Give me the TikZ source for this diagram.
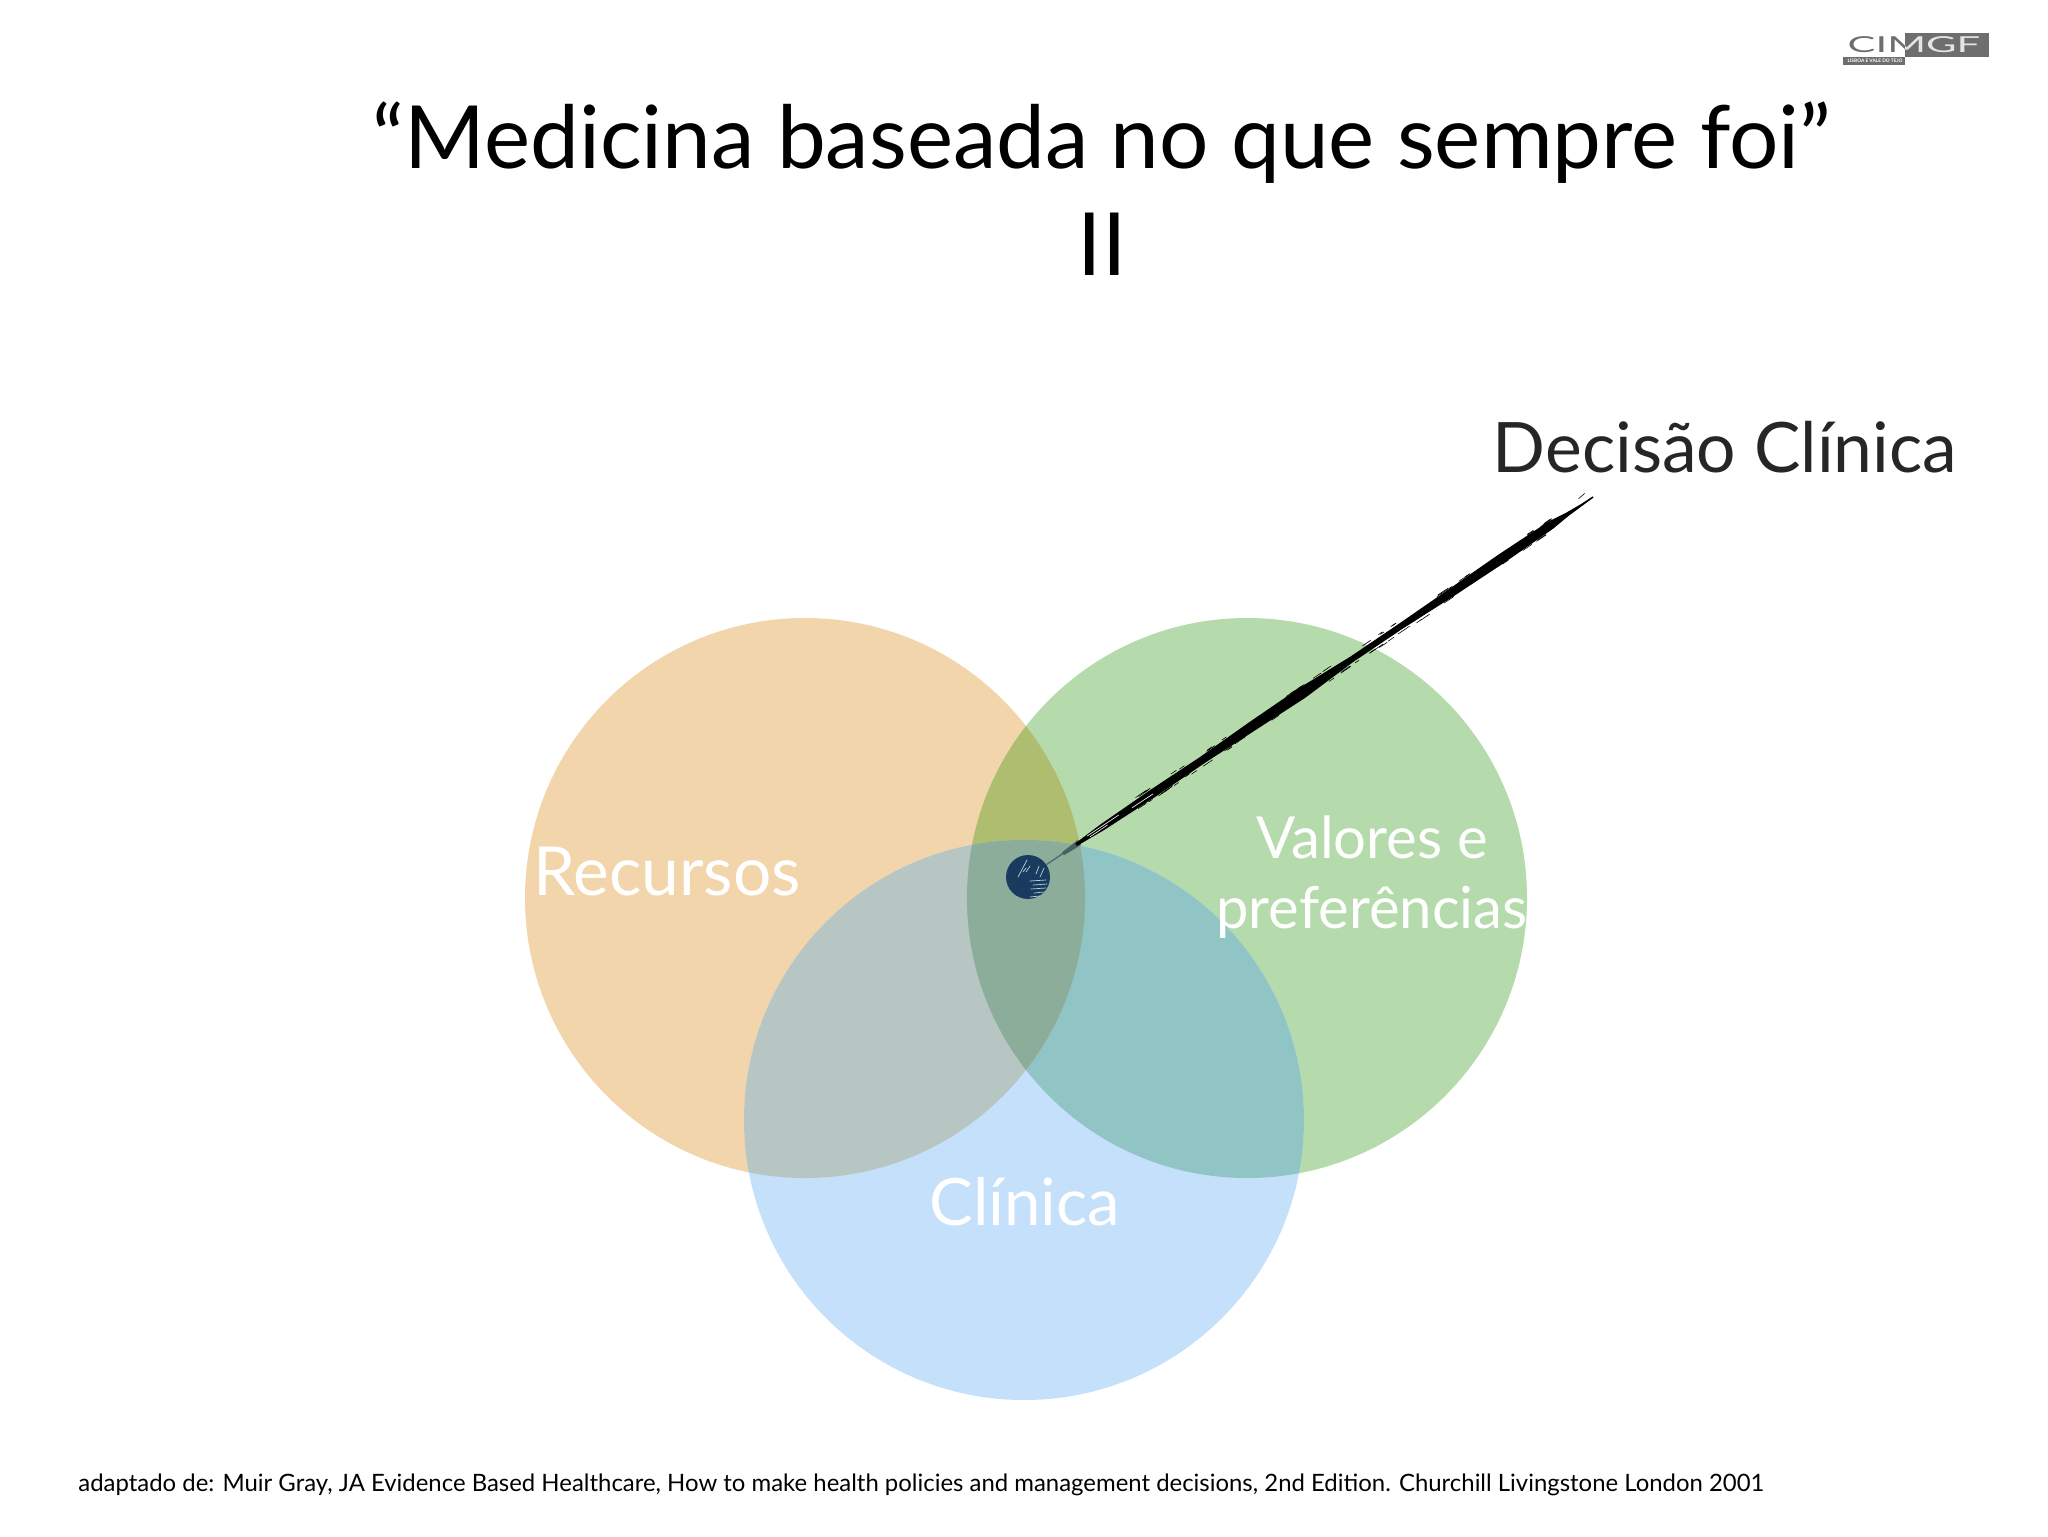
\documentclass[tikz,border=0pt]{standalone}
\usepackage{fontspec}
\setmainfont{Lato}
\definecolor{cO}{HTML}{F3D5AC}
\definecolor{cG}{HTML}{B5DBAC}
\definecolor{cB}{HTML}{C5E0FA}
\definecolor{cOG}{HTML}{AEBD6F}
\definecolor{cOB}{HTML}{B8C6C3}
\definecolor{cGB}{HTML}{91C4C5}
\definecolor{cOGB}{HTML}{8DAD9B}
\definecolor{cDot}{HTML}{1A3B60}
\definecolor{cLogo}{HTML}{6E6E6E}
\definecolor{cTxt}{HTML}{262626}
\tikzset{
  lbl/.style={text=white,inner sep=0pt},
  ttl/.style={text=black,font=\fontsize{43.6}{52}\selectfont,inner sep=0pt,anchor=base},
  bristle/.style={black,line width=0.3pt},
  scratch/.style={cGB!70!white,line width=0.35pt,line cap=round},
}
\begin{document}
\begin{tikzpicture}[x=0.5pt,y=-0.5pt]
\useasboundingbox (0,0) rectangle (2048,1536);
\fill[white] (0,0) rectangle (2048,1536);
% circles
\coordinate (R) at (805,898);
\coordinate (V) at (1247,898);
\coordinate (C) at (1024,1120);
\def\rr{140pt}
\fill[cO] (R) circle[radius=\rr];
\fill[cG] (V) circle[radius=\rr];
\fill[cB] (C) circle[radius=\rr];
\begin{scope}\clip (R) circle[radius=\rr]; \fill[cOG] (V) circle[radius=\rr];\end{scope}
\begin{scope}\clip (R) circle[radius=\rr]; \fill[cOB] (C) circle[radius=\rr];\end{scope}
\begin{scope}\clip (V) circle[radius=\rr]; \fill[cGB] (C) circle[radius=\rr];\end{scope}
\begin{scope}\clip (R) circle[radius=\rr]; \clip (V) circle[radius=\rr]; \fill[cOGB] (C) circle[radius=\rr];\end{scope}
% labels
\node[lbl,font=\fontsize{33.8}{40}\selectfont] (recursos) at (667,872) {Recursos};
\node[lbl,font=\fontsize{29}{35}\selectfont,align=center] (valores) at (1372,877) {Valores e\\preferências};
\node[lbl,font=\fontsize{32.7}{38}\selectfont] (clinica) at (1025,1202) {Clínica};
% title
\node[ttl] (t1) at (1102,168) {“Medicina baseada no que sempre foi”};
\node[ttl] (t2) at (1102,275) {II};
\node[text=cTxt,font=\fontsize{34.8}{40}\selectfont,inner sep=0pt] (dc) at (1725,447) {Decisão Clínica};
\node[text=black,font=\fontsize{11.96}{14}\selectfont,inner sep=0pt,anchor=base west] (src) at (78,1491) {adaptado de: Muir Gray, JA Evidence Based Healthcare, How to make health policies and management decisions, 2nd Edition.  Churchill Livingstone London 2001};
% dot and brush line
\node[circle,fill=cDot,minimum size=22pt,inner sep=0pt] (dot) at (1028,877) {};
\coordinate (tip) at (1593,497);
\draw[black!45!cGB,line width=0.7pt] (dot) -- (tip);
\begin{scope}[shift={(1028,877)},rotate=33.92]
  \fill[black!50!cGB] (42,-1.5) -- (62,-3) -- (62,3) -- (42,2) -- cycle;
  \fill[black] (58,-1.5) -- (90,-3.2) -- (150,-4) -- (210,-3.6) -- (270,-5) -- (330,-5.5) -- (390,-3) -- (450,-3.2) -- (510,-4) -- (570,-5) -- (630,-4.5) -- (650,-2) -- (668,-.8) -- (681,-.6)
    -- (681,.6) -- (668,1.2) -- (650,2) -- (630,4) -- (570,5) -- (510,4.5) -- (450,3) -- (390,3) -- (330,6) -- (270,5) -- (210,4) -- (150,4.5) -- (90,3.5) -- (58,1.5) -- cycle;
  \pgfmathsetseed{4127}
  \foreach \i in {1,...,60}{
    \pgfmathsetmacro{\tta}{120+rnd*510}
    \pgfmathsetmacro{\len}{4+rnd*10}
    \pgfmathsetmacro{\off}{(rnd<0.5?-1:1)*(4.5+rnd*1.5)}
    \draw[bristle] (\tta,\off) -- (\tta+\len,\off);
  }
  \draw[white,line width=0.3pt] (72,-1) -- (110,-.8) (74,1.2) -- (95,1.2) (125,0.6) -- (150,0.8);
  \fill[black] (668,-7) -- (676,-8) -- (676,-7.4) -- (668,-6.4) -- cycle;
\end{scope}
% scratches on the dot
\begin{scope}
  \clip (1028,877) circle[radius=21.5pt];
  \draw[scratch] (1018,877) -- (1027,860) (1026,872) -- (1030,866) (1036,874) -- (1039,866) (1040,877) -- (1044,868) (1023,872) -- (1026,868)
    (1030,881) -- (1046,880) (1033,885) -- (1047,884) (1031,889) -- (1046,888) (1034,893) -- (1044,892) (1030,897) -- (1040,896);
\end{scope}
% logo
\fill[cLogo] (1905,33) rectangle (1989,57);
\fill[cLogo] (1843,57) rectangle (1905,65);
\node[text=cLogo,font=\fontsize{11}{12}\selectfont,inner sep=0pt,xscale=1.9] (logo) at (1914,45) {CIMGF};
\begin{scope}\clip (1905,33) rectangle (1989,57);
\node[text=white!90!black,font=\fontsize{11}{12}\selectfont,inner sep=0pt,xscale=1.9] (logob) at (1914,45) {CIMGF};
\end{scope}
\node[text=white,font=\bfseries\fontsize{2.4}{3}\selectfont,inner sep=0pt] (lisboa) at (1875,61) {LISBOA E VALE DO TEJO};
\end{tikzpicture}
\end{document}
